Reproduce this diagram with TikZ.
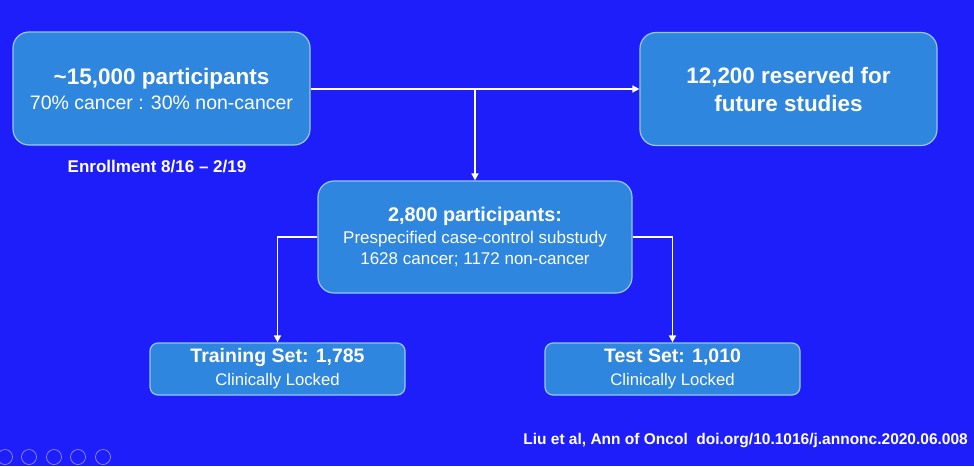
\documentclass[tikz,border=0pt]{standalone}
\usepackage{fontspec}
\setmainfont{Liberation Sans}
\setsansfont{Liberation Sans}
\usetikzlibrary{arrows.meta}
\definecolor{bg}{RGB}{30,30,250}
\definecolor{boxfill}{RGB}{47,134,222}
\definecolor{boxedge}{RGB}{150,200,245}
\begin{document}
\begin{tikzpicture}[x=1pt,y=-1pt,
  box/.style={draw=boxedge,line width=1.2pt,fill=boxfill,rounded corners=16pt,text=white,align=center,inner sep=0pt},
  sbox/.style={draw=boxedge,line width=1.2pt,fill=boxfill,rounded corners=8pt,text=white,align=center,inner sep=0pt},
  conn/.style={draw=white,line width=1.6pt},
  arr/.style={conn,-{Triangle[length=7pt,width=7pt]}},
  every node/.style={font=\sffamily}]
\fill[bg] (0,0) rectangle (974,466);
\useasboundingbox (0,0) rectangle (974,466);
\node[box,minimum width=297pt,minimum height=113pt,font=\fontsize{19.5}{25}\selectfont] (a) at (161.5,88.5)
  {{\fontsize{22.5}{25}\selectfont\bfseries \textasciitilde15,000 participants}\\{70\% cancer : 30\% non-cancer}};
\node[box,minimum width=297pt,minimum height=113pt,font=\fontsize{22.4}{28}\selectfont\bfseries] (b) at (788.5,89)
  {12,200 reserved for\\future studies};
\node[text=white,font=\bfseries\fontsize{17}{20}\selectfont] (enr) at (157,167) {Enrollment 8/16 – 2/19};
\node[box,minimum width=314pt,minimum height=112pt,font=\fontsize{17}{21.5}\selectfont] (c) at (475,237)
  {{\fontsize{19.8}{22}\selectfont\bfseries 2,800 participants:}\\Prespecified case-control substudy\\1628 cancer; 1172 non-cancer};
\node[sbox,minimum width=255pt,minimum height=52pt,font=\fontsize{16.7}{23}\selectfont] (d) at (277.5,369)
  {{\fontsize{19.5}{21}\selectfont\bfseries Training Set: 1,785}\\Clinically Locked};
\node[sbox,minimum width=255pt,minimum height=52pt,font=\fontsize{16.7}{23}\selectfont] (e) at (672.5,369)
  {{\fontsize{19.5}{21}\selectfont\bfseries Test Set: 1,010}\\Clinically Locked};
\coordinate (j) at (475,89);
\draw[arr] (a.east |- j) -- (b.west |- j);
\draw[arr] (j) -- (c.north);
\draw[arr] (c.west) -| (d.north);
\draw[arr] (c.east) -| (e.north);
\node[anchor=east,text=white,inner sep=0pt,font=\fontsize{15.5}{18}\selectfont\bfseries] (cite) at (968,441)
  {Liu et al, Ann of Oncol\ \ doi.org/10.1016/j.annonc.2020.06.008};
\foreach \i/\x in {1/5,2/29,3/54,4/78,5/103}{
  \node[draw=white!55!bg,circle,minimum size=15pt,inner sep=0pt,line width=0.6pt] (ic\i) at (\x,457) {};
}
\end{tikzpicture}
\end{document}
